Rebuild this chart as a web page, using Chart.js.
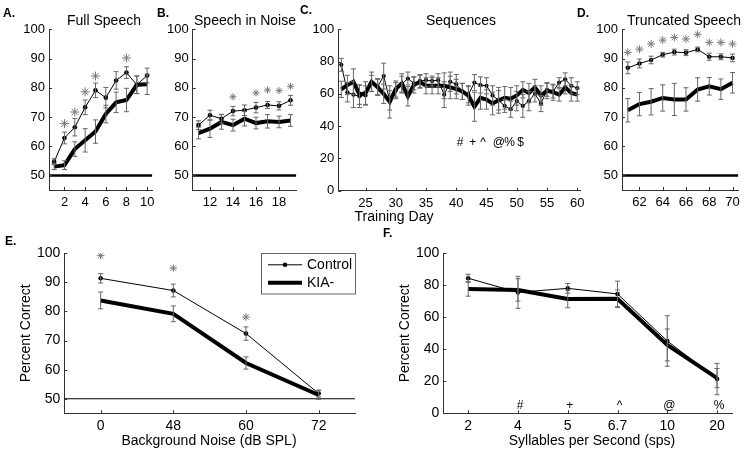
<!DOCTYPE html>
<html>
<head>
<meta charset="utf-8">
<script src="https://cdn.jsdelivr.net/npm/chart.js@4.4.1/dist/chart.umd.min.js"></script>
<style>
  html, body { margin: 0; padding: 0; background: #fff; }
  #wrap { position: relative; width: 745px; height: 452px; overflow: hidden; }
  #wrap canvas { position: absolute; left: 0; top: 0; }
</style>
</head>
<body>
<div id="wrap">
  <canvas id="pA" width="745" height="452"></canvas>
  <canvas id="pB" width="745" height="452"></canvas>
  <canvas id="pC" width="745" height="452"></canvas>
  <canvas id="pD" width="745" height="452"></canvas>
  <canvas id="pE" width="745" height="452"></canvas>
  <canvas id="pF" width="745" height="452"></canvas>
</div>
<script>
// ---- datos ----
// A. Full Speech
const fullDays = [1, 2, 3, 4, 5, 6, 7, 8, 9, 10];
const fullControl = [54.7, 62.8, 66.5, 73.3, 79.1, 76.6, 82.5, 85.2, 81.0, 84.2];
const fullControlErr = [1.0, 2.0, 3.0, 2.5, 2.5, 3.5, 3.0, 2.0, 3.0, 2.5];
const fullKia = [53.0, 53.5, 59.0, 62.0, 65.0, 71.0, 75.0, 75.8, 81.0, 81.2];
const fullKiaErr = [1.0, 1.5, 2.5, 4.0, 4.0, 3.0, 3.5, 4.0, 3.0, 3.5];
const fullStars = [null, 67.7, 71.7, 78.6, 84.0, null, null, 90.2, null, null];

// B. Speech in Noise
const noiseDays = [11, 12, 13, 14, 15, 16, 17, 18, 19];
const noiseControl = [67.2, 70.6, 69.4, 72.0, 72.3, 73.2, 74.1, 73.8, 75.7];
const noiseControlErr = [1.5, 1.7, 1.5, 1.6, 1.8, 1.8, 1.2, 1.4, 1.7];
const noiseKia = [64.5, 66.0, 68.3, 67.2, 69.4, 67.9, 68.5, 68.3, 68.8];
const noiseKiaErr = [2.0, 3.0, 2.5, 2.0, 2.5, 2.0, 2.3, 2.0, 2.0];
const noiseStars = [null, null, null, 76.9, null, 78.2, 79.2, 79.0, 80.5];

// C. Sequences
const seqDays = [21, 22, 23, 24, 25, 26, 27, 28, 29, 30, 31, 32, 33, 34, 35, 36, 37, 38, 39, 40,
                 41, 42, 43, 44, 45, 46, 47, 48, 49, 50, 51, 52, 53, 54, 55, 56, 57, 58, 59, 60];
const seqControl = [78, 61, 59.5, 58.5, 59, 66.5, 64.5, 71, 56, 62, 66, 69.5, 66.5, 68, 68.5, 68, 68.5, 59.5, 67.5, 66,
                    61.5, 59.5, 67, 65.5, 65, 59, 56, 52.5, 50.5, 55.5, 52.5, 55.5, 60, 54, 62.5, 61.5, 67, 69, 65, 63.5];
const seqControlErr = [4, 6, 8, 7, 6, 5, 5, 8, 6, 5, 5, 4, 4, 4, 4, 3, 4, 8, 6, 6,
                       5, 5, 5, 5, 5, 6, 6, 4, 5, 6, 7, 6, 5, 5, 4, 4, 3, 4, 5, 4];
const seqKia = [62.8, 65.5, 67.5, 59.5, 60.5, 67.5, 64, 60, 55, 63, 66.5, 58.5, 65.5, 67.5, 65, 65, 65, 65, 64, 63,
                61.5, 59, 52, 57.5, 56.5, 54, 56, 57.5, 57, 59, 62.5, 60.5, 64, 59, 62, 61, 59.5, 64, 60.5, 59.5];
const seqKiaErr = [5, 6, 8, 6, 7, 6, 5, 6, 10, 5, 6, 6, 5, 4, 5, 5, 5, 8, 7, 6,
                   5, 6, 9, 7, 6, 7, 8, 7, 7, 6, 5, 6, 5, 6, 5, 5, 4, 4, 5, 4];
const seqMarkDays = [40.3, 42.4, 44.1, 46.7, 48.5, 50.3];
const seqMarks = ['#', '+', '^', '@', '%', '$'];

// D. Truncated Speech
const truncDays = [61, 62, 63, 64, 65, 66, 67, 68, 69, 70];
const truncControl = [86.8, 88.3, 89.5, 91.3, 92.2, 92.0, 93.1, 90.6, 90.6, 90.2];
const truncControlErr = [2.0, 1.5, 1.3, 0.8, 1.0, 1.0, 0.8, 1.2, 1.0, 1.3];
const truncKia = [72.3, 74.4, 75.2, 76.5, 76.0, 76.0, 79.4, 80.5, 79.5, 81.7];
const truncKiaErr = [4.0, 4.0, 4.5, 4.5, 5.5, 4.0, 4.0, 3.0, 3.5, 3.5];
const truncStars = [92.1, 93.2, 95.0, 96.3, 97.2, 96.7, 98.3, 95.5, 95.5, 95.0];

// E. Background noise
const noiseLevels = ['0', '48', '60', '72'];
const levelControl = [91.4, 87.2, 72.4, 51.8];
const levelControlErr = [1.6, 2.2, 2.3, 1.2];
const levelKia = [83.8, 79.2, 62.3, 51.3];
const levelKiaErr = [2.9, 2.7, 2.1, 1.5];
const levelStars = [99.2, 94.9, 78.1, null];

// F. Syllable rate
const rates = ['2', '4', '5', '6.7', '10', '20'];
const rateControl = [84.4, 75.6, 78.1, 74.6, 45.2, 21.4];
const rateControlErr = [2.5, 10, 3, 8, 15.8, 9.8];
const rateKia = [77.7, 77.1, 71.4, 71.6, 42.7, 22.0];
const rateKiaErr = [4.5, 7, 5.4, 5.5, 10, 6];
const rateMarks = ['', '#', '+', '^', '@', '%'];

const chance = 50;

// ---- estilo ----
const FONT = "'Liberation Sans', Arial, sans-serif";
const AXIS = '#333';
const ERR = '#666';
const STAR = '#777';

const idx = arr => arr.map((_, i) => i);
const pts = (xs, ys) => xs.map((x, i) => ({ x: x, y: ys[i] }));

// barras de error
const errorBars = {
    id: 'errorBars',
    afterDatasetsDraw(chart) {
        const { ctx } = chart;
        const yScale = chart.scales.y;
        chart.data.datasets.forEach((ds, i) => {
            if (!ds.errors) return;
            const meta = chart.getDatasetMeta(i);
            ctx.save();
            ctx.strokeStyle = ERR;
            ctx.lineWidth = 1;
            ctx.beginPath();
            meta.data.forEach((pt, j) => {
                const e = ds.errors[j];
                const v = ds.data[j].y;
                if (e == null || v == null) return;
                const top = yScale.getPixelForValue(v + e);
                const bot = yScale.getPixelForValue(v - e);
                const cap = 2.5;
                ctx.moveTo(pt.x, top); ctx.lineTo(pt.x, bot);
                ctx.moveTo(pt.x - cap, top); ctx.lineTo(pt.x + cap, top);
                ctx.moveTo(pt.x - cap, bot); ctx.lineTo(pt.x + cap, bot);
            });
            ctx.stroke();
            ctx.restore();
        });
    }
};

// marcas de eje hacia dentro (estilo MATLAB)
const innerTicks = {
    id: 'innerTicks',
    afterDraw(chart) {
        const { ctx, chartArea: a } = chart;
        const { x, y } = chart.scales;
        ctx.save();
        ctx.strokeStyle = AXIS;
        ctx.lineWidth = 1;
        ctx.beginPath();
        x.ticks.forEach(t => {
            const px = Math.round(x.getPixelForValue(t.value)) + 0.5;
            ctx.moveTo(px, a.bottom); ctx.lineTo(px, a.bottom - 3);
        });
        y.ticks.forEach(t => {
            const py = Math.round(y.getPixelForValue(t.value)) + 0.5;
            ctx.moveTo(a.left, py); ctx.lineTo(a.left + 3, py);
        });
        ctx.stroke();
        ctx.restore();
    }
};

// textos del panel, símbolos y leyenda
const panelText = {
    id: 'panelText',
    afterDraw(chart, args, o) {
        const { ctx, chartArea: a } = chart;
        ctx.save();
        ctx.fillStyle = '#000';
        ctx.textBaseline = 'alphabetic';
        if (o.letter) {
            ctx.font = `bold 12px ${FONT}`;
            ctx.textAlign = 'left';
            ctx.fillText(o.letter, o.letterX, o.letterY);
        }
        if (o.title) {
            ctx.font = `14px ${FONT}`;
            ctx.textAlign = 'center';
            ctx.fillText(o.title, o.titleX, o.titleY);
        }
        if (o.xTitle) {
            ctx.font = `14px ${FONT}`;
            ctx.textAlign = 'center';
            ctx.textBaseline = 'middle';
            ctx.fillText(o.xTitle, o.xTitleX, o.xTitleY);
        }
        if (o.marks) {
            const { xs, labels, y, size } = o.marks;
            ctx.font = `${size}px ${FONT}`;
            ctx.textAlign = 'center';
            ctx.textBaseline = 'middle';
            xs.forEach((xv, i) => {
                ctx.fillText(labels[i], chart.scales.x.getPixelForValue(xv) + 2, chart.scales.y.getPixelForValue(y));
            });
        }
        if (o.yTitle) {
            ctx.save();
            ctx.font = `14px ${FONT}`;
            ctx.translate(o.yTitleX, (a.top + a.bottom) / 2);
            ctx.rotate(-Math.PI / 2);
            ctx.textAlign = 'center';
            ctx.textBaseline = 'middle';
            ctx.fillText(o.yTitle, 0, 0);
            ctx.restore();
        }
        if (o.legend) {
            const r = a.right, l = r - 94, t = a.top - 0.5, h = 40.5;
            ctx.strokeStyle = '#666';
            ctx.lineWidth = 1;
            ctx.strokeRect(Math.round(l) + 0.5, Math.round(t) + 0.5, 94, h);
            ctx.strokeStyle = '#000';
            ctx.beginPath();
            ctx.moveTo(l + 7, t + 12); ctx.lineTo(l + 41, t + 12);
            ctx.stroke();
            ctx.beginPath();
            ctx.arc(l + 24, t + 12, 2.3, 0, Math.PI * 2);
            ctx.fill();
            ctx.lineWidth = 4;
            ctx.beginPath();
            ctx.moveTo(l + 7, t + 30); ctx.lineTo(l + 41, t + 30);
            ctx.stroke();
            ctx.font = `14px ${FONT}`;
            ctx.textAlign = 'left';
            ctx.textBaseline = 'middle';
            ctx.fillText(o.legend[0], l + 46, t + 12);
            ctx.fillText(o.legend[1], l + 46, t + 30);
        }
        ctx.restore();
    }
};

Chart.register(errorBars, innerTicks, panelText);

function controlSet(xs, ys, errs, r) {
    return { data: pts(xs, ys), errors: errs, borderColor: '#000', borderWidth: 1,
             pointRadius: r, pointBackgroundColor: '#000', pointBorderWidth: 0, order: 1 };
}
function kiaSet(xs, ys, errs) {
    return { data: pts(xs, ys), errors: errs, borderColor: '#000', borderWidth: 4,
             pointRadius: 0, order: 2 };
}
function starSet(xs, ys, r) {
    return { data: pts(xs, ys), showLine: false, pointStyle: 'star', pointRadius: r,
             pointBorderColor: STAR, pointBorderWidth: 1, order: 0 };
}
function chanceSet(x0, x1, w) {
    return { data: pts([x0, x1], [chance, chance]), borderColor: '#000', borderWidth: w,
             pointRadius: 0, order: 3 };
}

function makePanel(id, box, xAxis, yAxis, datasets, text) {
    const YW = 40, XH = 30;
    return new Chart(document.getElementById(id), {
        type: 'line',
        data: { datasets: datasets },
        options: {
            responsive: false,
            animation: false,
            events: [],
            layout: { padding: { left: box.l - YW, right: 745 - box.r, top: box.t, bottom: 452 - box.b - XH } },
            plugins: { legend: { display: false }, tooltip: { enabled: false }, panelText: text },
            elements: { line: { tension: 0 } },
            scales: {
                x: {
                    type: 'linear', min: xAxis.min, max: xAxis.max,
                    afterFit: s => { s.height = XH; },
                    afterBuildTicks: s => { s.ticks = xAxis.ticks.map(v => ({ value: v })); },
                    grid: { display: false, drawTicks: false },
                    border: { color: AXIS, width: 1 },
                    ticks: {
                        padding: xAxis.pad, color: '#000', autoSkip: false, maxRotation: 0,
                        font: { family: FONT, size: xAxis.size },
                        callback: xAxis.labels ? (v => xAxis.labels[v]) : (v => String(v))
                    }
                },
                y: {
                    min: yAxis.min, max: yAxis.max,
                    afterFit: s => { s.width = YW; },
                    afterBuildTicks: s => { s.ticks = yAxis.ticks.map(v => ({ value: v })); },
                    grid: { display: false, drawTicks: false },
                    border: { color: AXIS, width: 1 },
                    ticks: {
                        padding: 4, color: '#000',
                        font: { family: FONT, size: yAxis.size },
                        callback: v => String(v)
                    }
                }
            }
        }
    });
}

const topY = { min: 45, max: 100, ticks: [50, 60, 70, 80, 90, 100], size: 13 };

// A
makePanel('pA', { l: 49, r: 152.3, t: 29.3, b: 190 },
    { min: 0.5, max: 10.5, ticks: [2, 4, 6, 8, 10], pad: 5, size: 13 }, topY,
    [controlSet(fullDays, fullControl, fullControlErr, 2.3), kiaSet(fullDays, fullKia, fullKiaErr),
     starSet(fullDays, fullStars, 4.5), chanceSet(0.5, 10.5, 2.5)],
    { letter: 'A.', letterX: 3, letterY: 17, title: 'Full Speech', titleX: 104, titleY: 25 });

// B
makePanel('pB', { l: 192.7, r: 296.3, t: 29.3, b: 190 },
    { min: 10.5, max: 19.5, ticks: [12, 14, 16, 18], pad: 5, size: 13 }, topY,
    [controlSet(noiseDays, noiseControl, noiseControlErr, 2.3), kiaSet(noiseDays, noiseKia, noiseKiaErr),
     starSet(noiseDays, noiseStars, 3.5), chanceSet(10.5, 19.5, 2.5)],
    { letter: 'B.', letterX: 157, letterY: 17, title: 'Speech in Noise', titleX: 245, titleY: 25 });

// C
makePanel('pC', { l: 338.3, r: 580.3, t: 29.3, b: 190.7 },
    { min: 20.5, max: 60.5, ticks: [25, 30, 35, 40, 45, 50, 55, 60], pad: 5, size: 13 },
    { min: 0, max: 100, ticks: [0, 20, 40, 60, 80, 100], size: 13 },
    [controlSet(seqDays, seqControl, seqControlErr, 2.1), kiaSet(seqDays, seqKia, seqKiaErr)],
    { letter: 'C.', letterX: 300, letterY: 13.5, title: 'Sequences', titleX: 461, titleY: 25,
      xTitle: 'Training Day', xTitleX: 394, xTitleY: 217,
      marks: { xs: seqMarkDays, labels: seqMarks, y: 30, size: 12 } });

// D
makePanel('pD', { l: 622, r: 741.7, t: 29.3, b: 190 },
    { min: 60.5, max: 70.5, ticks: [62, 64, 66, 68, 70], pad: 5, size: 13 }, topY,
    [controlSet(truncDays, truncControl, truncControlErr, 2.3), kiaSet(truncDays, truncKia, truncKiaErr),
     starSet(truncDays, truncStars, 4), chanceSet(60.5, 70.5, 2.5)],
    { letter: 'D.', letterX: 577, letterY: 17, title: 'Truncated Speech', titleX: 684, titleY: 25 });

// E
makePanel('pE', { l: 64.3, r: 355, t: 253.3, b: 413.3 },
    { min: -0.5, max: 3.5, ticks: idx(noiseLevels), labels: noiseLevels, pad: 4, size: 14 },
    { min: 45, max: 100, ticks: [50, 60, 70, 80, 90, 100], size: 14 },
    [controlSet(idx(noiseLevels), levelControl, levelControlErr, 2.3),
     kiaSet(idx(noiseLevels), levelKia, levelKiaErr),
     starSet(idx(noiseLevels), levelStars, 3.8), chanceSet(-0.5, 3.5, 1)],
    { letter: 'E.', letterX: 5, letterY: 245, xTitle: 'Background Noise (dB SPL)', xTitleX: 209, xTitleY: 441,
      yTitle: 'Percent Correct', yTitleX: 26, legend: ['Control', 'KIA-'] });

// F
makePanel('pF', { l: 443.3, r: 732, t: 253.3, b: 413.3 },
    { min: -0.5, max: 5.3, ticks: idx(rates), labels: rates, pad: 4, size: 14 },
    { min: 0, max: 100, ticks: [0, 20, 40, 60, 80, 100], size: 14 },
    [controlSet(idx(rates), rateControl, rateControlErr, 2.3), kiaSet(idx(rates), rateKia, rateKiaErr)],
    { letter: 'F.', letterX: 383, letterY: 237, xTitle: 'Syllables per Second (sps)', xTitleX: 592, xTitleY: 441,
      yTitle: 'Percent Correct', yTitleX: 405,
      marks: { xs: idx(rates), labels: rateMarks, y: 4.5, size: 12 } });
</script>
</body>
</html>
